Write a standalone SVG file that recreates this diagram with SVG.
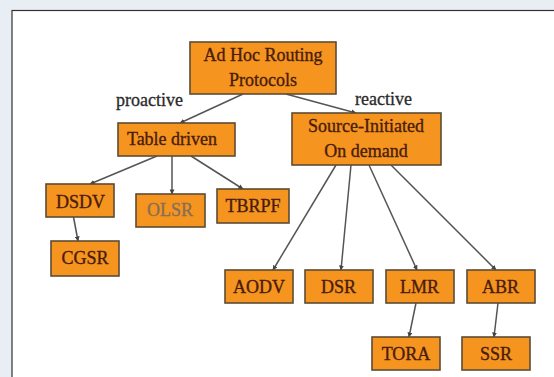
<svg xmlns="http://www.w3.org/2000/svg" width="554" height="377" viewBox="0 0 554 377">
<defs>
<style>
.box{fill:#f5951f;stroke:#5e4b35;stroke-width:1.6}
text{font-family:'Liberation Serif','Times New Roman',Times,'DejaVu Serif',serif;font-size:18px}
.t{fill:#4a1c0c;text-anchor:middle;stroke:#4a1c0c;stroke-width:0.35}
.g{fill:#8a6d55;stroke:#8a6d55}
.lbl{fill:#2a2a2a;stroke:#2a2a2a;stroke-width:0.3}
.e{stroke:#555;stroke-width:1.5;fill:none;marker-end:url(#ah)}
</style>
<marker id="ah" viewBox="0 0 6 6" refX="5.5" refY="3" markerWidth="5" markerHeight="5" orient="auto" markerUnits="userSpaceOnUse">
<path d="M0,0 L6,3 L0,6 z" fill="#444"/>
</marker>
</defs>
<rect x="0" y="0" width="554" height="377" fill="#e9eef4"/>
<rect x="12" y="10.5" width="560" height="380" fill="#ffffff" stroke="#333" stroke-width="1.2"/>
<g id="connectors">
<line class="e" x1="243" y1="94" x2="180" y2="123"/>
<line class="e" x1="286" y1="94" x2="356" y2="113"/>
<line class="e" x1="157" y1="156" x2="90" y2="184"/>
<line class="e" x1="172" y1="156" x2="172" y2="194"/>
<line class="e" x1="191" y1="156" x2="243" y2="189"/>
<line class="e" x1="73.5" y1="217" x2="78" y2="241"/>
<line class="e" x1="336" y1="165" x2="273" y2="270"/>
<line class="e" x1="351" y1="165" x2="341" y2="270"/>
<line class="e" x1="369" y1="165" x2="417" y2="270"/>
<line class="e" x1="391" y1="165" x2="496" y2="270"/>
<line class="e" x1="416" y1="303" x2="409" y2="337"/>
<line class="e" x1="498" y1="303" x2="494" y2="337"/>
</g>
<text class="lbl" x="116" y="106">proactive</text>
<text class="lbl" x="355" y="105">reactive</text>
<g id="root"><rect class="box" x="190" y="42" width="146" height="52"/><text class="t" x="263" y="61">Ad Hoc Routing</text><text class="t" x="263" y="86">Protocols</text></g>
<g id="table"><rect class="box" x="118" y="123" width="117" height="33"/><text class="t" x="172" y="145">Table driven</text></g>
<g id="source"><rect class="box" x="292" y="113" width="149" height="52"/><text class="t" x="366" y="131.5">Source-Initiated</text><text class="t" x="366" y="156.5">On demand</text></g>
<g id="dsdv"><rect class="box" x="46" y="184" width="68" height="33"/><text class="t" x="80.5" y="207.5">DSDV</text></g>
<g id="olsr"><rect class="box" x="136" y="194" width="69" height="33"/><text class="t g" x="170" y="216">OLSR</text></g>
<g id="tbrpf"><rect class="box" x="217" y="189" width="72" height="34"/><text class="t" x="253" y="212">TBRPF</text></g>
<g id="cgsr"><rect class="box" x="51" y="241" width="68" height="35"/><text class="t" x="85" y="264">CGSR</text></g>
<g id="aodv"><rect class="box" x="225" y="270" width="68" height="33"/><text class="t" x="259" y="293">AODV</text></g>
<g id="dsr"><rect class="box" x="305" y="270" width="68" height="33"/><text class="t" x="338.5" y="293">DSR</text></g>
<g id="lmr"><rect class="box" x="386" y="270" width="68" height="33"/><text class="t" x="419.5" y="293">LMR</text></g>
<g id="abr"><rect class="box" x="467" y="270" width="68" height="33"/><text class="t" x="500.5" y="293">ABR</text></g>
<g id="tora"><rect class="box" x="372" y="337" width="68" height="33"/><text class="t" x="406" y="360">TORA</text></g>
<g id="ssr"><rect class="box" x="462" y="337" width="68" height="33"/><text class="t" x="496" y="360">SSR</text></g>
</svg>
